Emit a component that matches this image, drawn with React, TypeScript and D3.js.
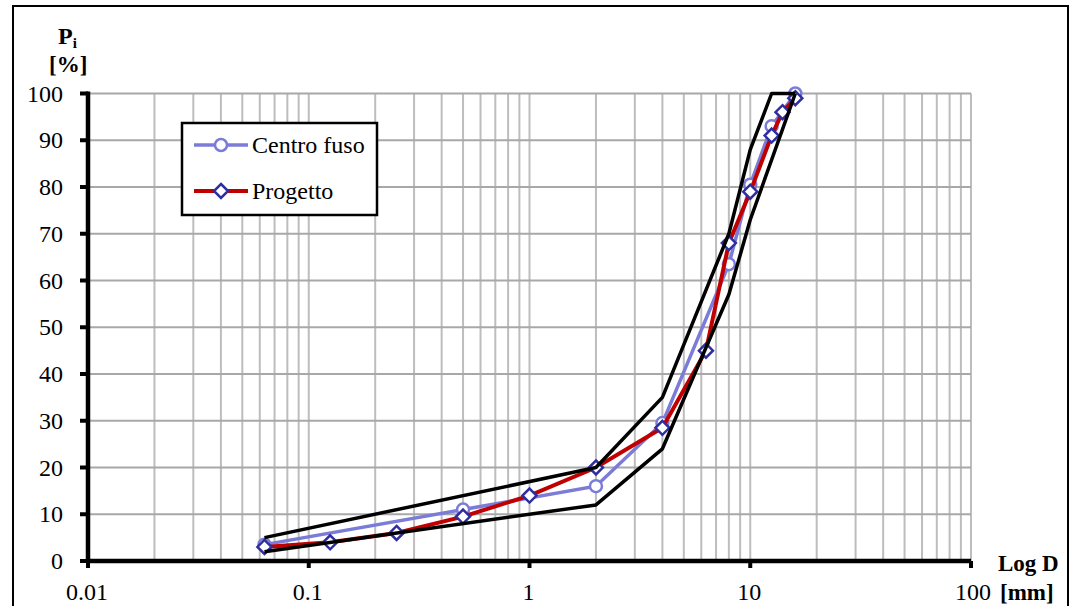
import React from 'react';
import * as d3 from 'd3';

// sieve openings [mm] and passing percentages
const sieves = [0.063, 0.125, 0.25, 0.5, 1, 2, 4, 6.3, 8, 10, 12.5, 14, 16];
const progetto = [3, 4, 6, 9.5, 14, 20, 28.5, 45, 68, 79, 91, 96, 99];

const centroSieves = [0.063, 0.5, 2, 4, 8, 10, 12.5, 16];
const centroFuso = [3.5, 11, 16, 29.5, 63.5, 80.5, 93, 100];

const supSieves = [0.063, 2, 4, 8, 10, 12.5, 16];
const fusoSup = [5, 20, 35, 70, 88, 100, 100];

const infSieves = [0.063, 2, 4, 8, 10, 16];
const fusoInf = [2, 12, 24, 57, 73, 100];

const xTicks = [0.01, 0.1, 1, 10, 100];
const xTickLabels = ['0.01', '0.1', '1', '10', '100'];
const yTicks = [0, 10, 20, 30, 40, 50, 60, 70, 80, 90, 100];

const W = 1070;
const H = 606;
const FONT = '"Liberation Serif", "Times New Roman", serif';

export default function App() {
  const x = d3.scaleLog().domain([0.01, 100]).range([88, 971]);
  const y = d3.scaleLinear().domain([0, 100]).range([561, 93.5]);

  // minor log gridlines 1..9 per decade
  const minor: number[] = [];
  [0.01, 0.1, 1, 10].forEach(dec => {
    for (let k = 1; k <= 9; k++) minor.push(dec * k);
  });
  minor.push(100);

  const line = d3.line<[number, number]>()
    .x(d => x(d[0]))
    .y(d => y(d[1]));

  const zip = (a: number[], b: number[]) => a.map((v, i) => [v, b[i]] as [number, number]);

  const centroPts = zip(centroSieves, centroFuso);
  const progPts = zip(sieves, progetto);

  const diamond = (cx: number, cy: number, r: number) =>
    `M${cx},${cy - r}L${cx + r},${cy}L${cx},${cy + r}L${cx - r},${cy}Z`;

  return (
    <svg width={W} height={H} style={{ position: 'absolute', left: 0, top: 0, background: '#fff' }}
      fontFamily={FONT}>
      <rect x={0} y={0} width={W} height={H} fill="#fff" />
      <rect x={13} y={6} width={1055} height={610} fill="none" stroke="#000" strokeWidth={2} />

      {/* gridlines */}
      {minor.map((m, i) => (
        <line key={'v' + i} x1={x(m)} x2={x(m)} y1={y(100)} y2={y(0)} stroke="#bdbdbd" strokeWidth={2} />
      ))}
      {yTicks.slice(1).map(t => (
        <line key={'h' + t} x1={x(0.01)} x2={x(100)} y1={y(t)} y2={y(t)} stroke="#a8a8a8" strokeWidth={2} />
      ))}

      {/* axes */}
      <line x1={x(0.01)} x2={x(0.01)} y1={y(100) - 2} y2={y(0) + 2} stroke="#000" strokeWidth={4.5} />
      <line x1={x(0.01) - 2} x2={x(100)} y1={y(0)} y2={y(0)} stroke="#000" strokeWidth={4.5} />
      {yTicks.map(t => (
        <line key={'yt' + t} x1={80} x2={x(0.01)} y1={y(t)} y2={y(t)} stroke="#000" strokeWidth={4} />
      ))}
      {xTicks.map(t => (
        <line key={'xt' + t} x1={x(t)} x2={x(t)} y1={y(0)} y2={568} stroke="#000" strokeWidth={4} />
      ))}

      {/* tick labels */}
      {yTicks.map(t => (
        <text key={'yl' + t} x={63} y={y(t) + 8} textAnchor="end" fontSize={24}>{t}</text>
      ))}
      {xTicks.map((t, i) => (
        <text key={'xl' + t} x={x(t) + (i === 4 ? 2 : -1)} y={600} textAnchor="middle" fontSize={24}>{xTickLabels[i]}</text>
      ))}

      {/* axis titles */}
      <text x={58} y={44} fontSize={24} fontWeight="bold">P<tspan fontSize={15} dy={4}>i</tspan></text>
      <text x={49} y={72} fontSize={23} fontWeight="bold">[%]</text>
      <text x={998} y={571} fontSize={23} fontWeight="bold">Log D</text>
      <text x={1000} y={600} fontSize={23} fontWeight="bold">[mm]</text>

      {/* Centro fuso */}
      <path d={line(centroPts) || ''} fill="none" stroke="#7b7bd8" strokeWidth={3.5} />
      {centroPts.map((p, i) => (
        <circle key={'c' + i} cx={x(p[0])} cy={y(p[1])} r={6} fill="#fff" stroke="#7b7bd8" strokeWidth={2.5} />
      ))}

      {/* Progetto */}
      <path d={line(progPts) || ''} fill="none" stroke="#c00000" strokeWidth={4} />
      {progPts.map((p, i) => (
        <path key={'d' + i} d={diamond(x(p[0]), y(p[1]), 7)} fill="#fff" stroke="#2e2e9e" strokeWidth={2.5} />
      ))}

      {/* fuso limits */}
      <path d={line(zip(infSieves, fusoInf)) || ''} fill="none" stroke="#000" strokeWidth={3.5} strokeLinejoin="round" />
      <path d={line(zip(supSieves, fusoSup)) || ''} fill="none" stroke="#000" strokeWidth={3.5} strokeLinejoin="round" />

      {/* legend */}
      <rect x={182} y={123} width={195} height={92} fill="#fff" stroke="#000" strokeWidth={2.5} />
      <line x1={194} x2={248} y1={145} y2={145} stroke="#7b7bd8" strokeWidth={3.5} />
      <circle cx={221} cy={145} r={6} fill="#fff" stroke="#7b7bd8" strokeWidth={2.5} />
      <text x={252} y={153} fontSize={24}>Centro fuso</text>
      <line x1={194} x2={248} y1={191} y2={191} stroke="#c00000" strokeWidth={4} />
      <path d={diamond(221, 191, 7)} fill="#fff" stroke="#2e2e9e" strokeWidth={2.5} />
      <text x={252} y={199} fontSize={24}>Progetto</text>
    </svg>
  );
}
